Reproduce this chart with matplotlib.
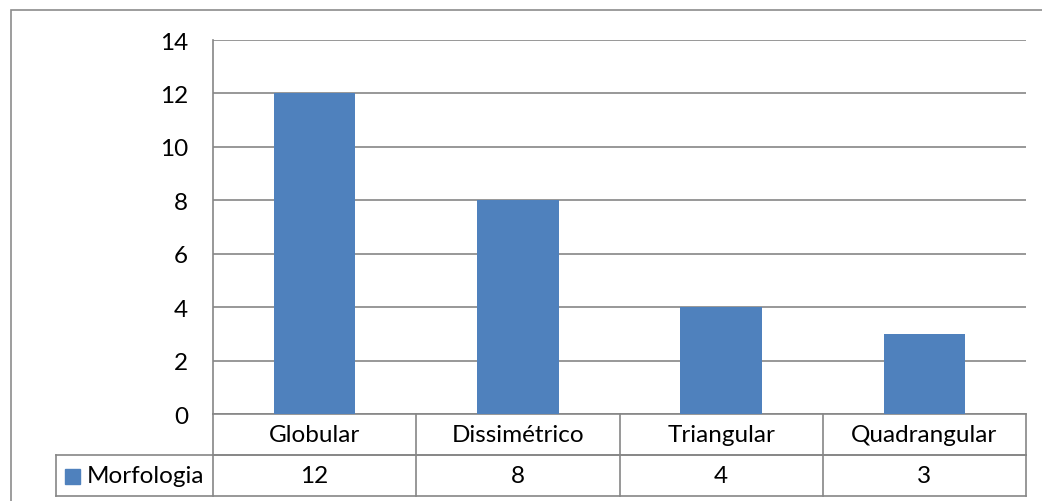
import matplotlib
matplotlib.use("Agg")
import matplotlib.pyplot as plt
from matplotlib.patches import Rectangle
from matplotlib.lines import Line2D
import matplotlib.transforms as mtransforms

categories = ["Globular", "Dissimétrico", "Triangular", "Quadrangular"]
values = [12, 8, 4, 3]
series_name = "Morfologia"
yticks = [0, 2, 4, 6, 8, 10, 12, 14]

BAR = "#4F81BD"
GRID = "#868686"
FONT = ["Lato", "DejaVu Sans"]
FS = 17.5
plt.rcParams["font.family"] = FONT

W, H = 1042, 502
fig = plt.figure(figsize=(W / 100, H / 100), dpi=100)
# plot area in pixels: left 213, right 1026, top 41, bottom 415
ax = fig.add_axes([213 / W, 1 - 415 / H, (1026 - 213) / W, (415 - 41) / H])

x = list(range(len(categories)))
ax.bar(x, values, width=0.4, color=BAR, zorder=3)
ax.set_xlim(-0.5, len(categories) - 0.5)
ax.set_ylim(0, 14)
ax.set_yticks(yticks)
ax.set_yticklabels([str(t) for t in yticks], fontsize=FS, color="black")
ax.tick_params(axis="y", length=0, pad=18)
ax.set_xticks([])
ax.grid(axis="y", color=GRID, linewidth=1.2, zorder=0)
for s in ["top", "right"]:
    ax.spines[s].set_visible(False)
for s in ["left", "bottom"]:
    ax.spines[s].set_color(GRID)
    ax.spines[s].set_linewidth(1.2)

# data table below the axes
row_h = 41 / (415 - 41)  # in axes fraction
trans = mtransforms.blended_transform_factory(ax.transData, ax.transAxes)
px_per_cat = (1026 - 213) / len(categories)
legend_left = -0.5 - (213 - 56) / px_per_cat
right = len(categories) - 0.5
lw = 1.2
def hline(x0, x1, y):
    ax.add_line(Line2D([x0, x1], [y, y], transform=trans, color=GRID, lw=lw, clip_on=False))
def vline(xx, y0, y1):
    ax.add_line(Line2D([xx, xx], [y0, y1], transform=trans, color=GRID, lw=lw, clip_on=False))

hline(-0.5, right, -row_h)
hline(legend_left, right, -row_h)
hline(legend_left, right, -2 * row_h)
for i in range(len(categories) + 1):
    vline(i - 0.5, 0, -2 * row_h)
vline(legend_left, -row_h, -2 * row_h)

for i, (c, v) in enumerate(zip(categories, values)):
    ax.text(i, -0.5 * row_h, c, transform=trans, ha="center", va="center", fontsize=FS, clip_on=False)
    ax.text(i, -1.5 * row_h, str(v), transform=trans, ha="center", va="center", fontsize=FS, clip_on=False)

# legend key in the table
ax.add_patch(Rectangle((65 / W, 1 - 485 / H), 15 / W, 15 / H, transform=fig.transFigure,
                       color=BAR, clip_on=False))
fig.text(87 / W, 1 - 477 / H, series_name, ha="left", va="center", fontsize=FS)

# outer chart border
fig.add_artist(Rectangle((10.5 / W, -0.1), 2, 1 - 11 / H + 0.1, transform=fig.transFigure,
                         fill=False, edgecolor="#8C8C8C", linewidth=1.2))

fig.savefig("out.png", dpi=100)
